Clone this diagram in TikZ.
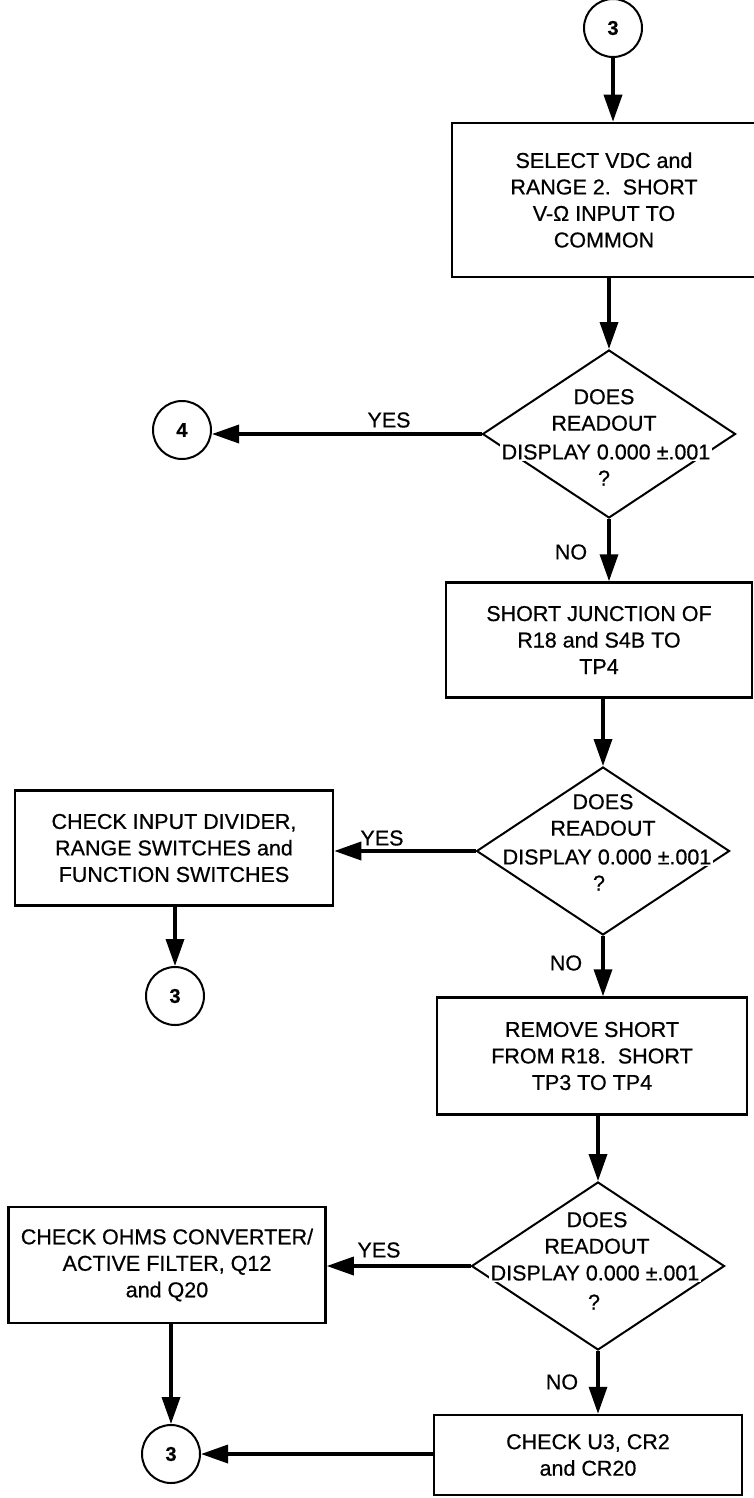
\documentclass[tikz,border=0pt]{standalone}
\usepackage{fontspec}
\setmainfont[FakeBold=0.6]{Liberation Sans}
\usetikzlibrary{shapes.geometric,arrows.meta}
\begin{document}
\begin{tikzpicture}[x=1pt,y=-1pt,
  every node/.style={font=\fontsize{21.5}{26.5}\selectfont},
  procbox/.style={draw, line width=2.5pt, rectangle, align=center, inner sep=0pt},
  decbox/.style={draw, line width=2pt, diamond, inner sep=0pt, minimum width=253pt, minimum height=168pt},
  conn/.style={draw, circle, line width=2pt, minimum size=58pt, inner sep=0pt, font=\fontsize{20}{22}\selectfont\bfseries},
  flow/.style={line width=3.5pt, -{Triangle[length=27pt,width=18pt]}},
  lbl/.style={inner sep=0pt},
  dtext/.style={align=center, inner sep=0pt},
  dline/.style={align=center, inner sep=1.5pt, fill=white},
]
\useasboundingbox (0,0) rectangle (754,1498);

% top
\node[conn] (ca) at (613,28) {3};
\node[procbox, minimum width=304pt, minimum height=154pt] (b1) at (604,200)
  {SELECT VDC and\\RANGE 2.\ \ SHORT\\V-Ω INPUT TO\\COMMON};

% decision 1
\node[decbox] (d1) at (609,434) {};
\node[dtext] (d1a) at (604,410) {DOES\\READOUT};
\node[dline] (d1b) at (606,452) {DISPLAY 0.000 ±.001};
\node[dtext] (d1c) at (604,478) {?};
\node[conn] (c4) at (182,430) {4};
\node[lbl] (y1) at (389,420) {YES};
\node[lbl] (n1) at (571,552) {NO};

% box 2
\node[procbox, minimum width=306pt, minimum height=115pt] (b2) at (599,640)
  {SHORT JUNCTION OF\\R18 and S4B TO\\TP4};

% decision 2
\node[decbox] (d2) at (603,851) {};
\node[dtext] (d2a) at (603,815) {DOES\\READOUT};
\node[dline] (d2b) at (607,857) {DISPLAY 0.000 ±.001};
\node[dtext] (d2c) at (599,883) {?};
\node[procbox, minimum width=318pt, minimum height=115pt] (lb2) at (174,848)
  {CHECK INPUT DIVIDER,\\RANGE SWITCHES and\\FUNCTION SWITCHES};
\node[conn] (c3b) at (175,996) {3};
\node[lbl] (y2) at (382,838) {YES};
\node[lbl] (n2) at (566,963) {NO};

% box 3
\node[procbox, minimum width=310pt, minimum height=117pt] (b3) at (592,1056)
  {REMOVE SHORT\\FROM R18.\ \ SHORT\\TP3 TO TP4};

% decision 3
\node[decbox] (d3) at (598,1266) {};
\node[dtext] (d3a) at (597,1233) {DOES\\READOUT};
\node[dline] (d3b) at (595,1273) {DISPLAY 0.000 ±.001};
\node[dtext] (d3c) at (594,1302) {?};
\node[procbox, minimum width=317pt, minimum height=116pt] (lb3) at (167,1265)
  {CHECK OHMS CONVERTER/\\ACTIVE FILTER, Q12\\and Q20};
\node[lbl] (y3) at (379,1250) {YES};
\node[lbl] (n3) at (562,1382) {NO};

% bottom
\node[procbox, minimum width=308pt, minimum height=80pt] (b4) at (588,1455)
  {CHECK U3, CR2\\and CR20};
\node[conn] (c3c) at (171,1454) {3};

% connectors
\draw[flow] (ca.south) -- (ca.south |- b1.north);
\draw[flow] (d1.north |- b1.south) -- (d1.north);
\draw[flow] (d1.west) -- (d1.west -| c4.east);
\draw[flow] (d1.south) -- (d1.south |- b2.north);
\draw[flow] (d2.north |- b2.south) -- (d2.north);
\draw[flow] (d2.west) -- (d2.west -| lb2.east);
\draw[flow] (c3b.north |- lb2.south) -- (c3b.north);
\draw[flow] (d2.south) -- (d2.south |- b3.north);
\draw[flow] (d3.north |- b3.south) -- (d3.north);
\draw[flow] (d3.west) -- (d3.west -| lb3.east);
\draw[flow] (c3c.north |- lb3.south) -- (c3c.north);
\draw[flow] (d3.south) -- (d3.south |- b4.north);
\draw[flow] (b4.west |- c3c.east) -- (c3c.east);
\end{tikzpicture}
\end{document}
